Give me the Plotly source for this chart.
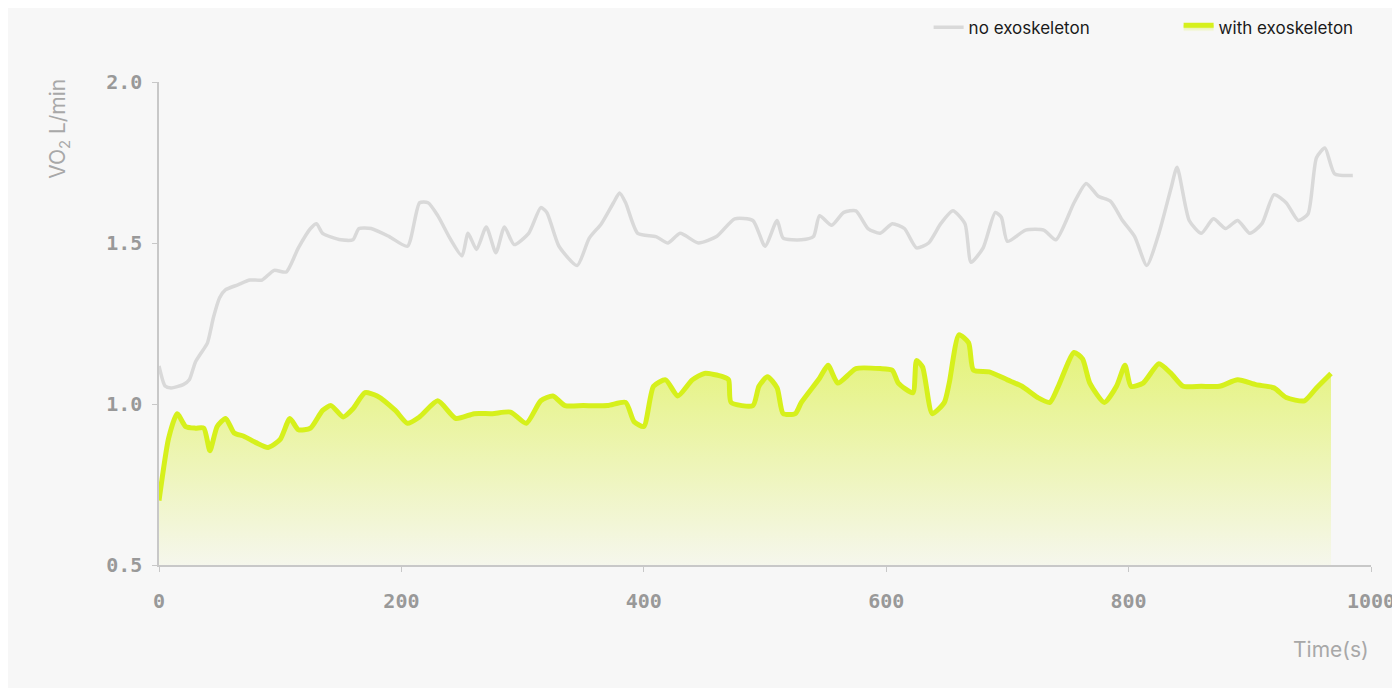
import plotly.graph_objects as go

t_no = [0,5,10,20,25,30,35,40,45,50,55,65,75,85,95,105,115,125,130,135,150,160,165,175,190,205,215,222,230,240,250,255,262,270,278,285,293,305,315,320,330,345,355,365,375,380,385,395,410,420,430,445,460,475,490,500,510,515,530,540,545,555,565,575,585,595,605,615,625,635,645,655,665,670,680,690,695,700,715,730,740,755,765,775,785,795,805,815,825,835,840,850,860,870,880,890,900,910,920,930,940,948,955,962,970,985]
v_no = [1.118,1.056,1.05,1.06,1.075,1.13,1.16,1.19,1.27,1.33,1.355,1.37,1.385,1.385,1.415,1.41,1.485,1.545,1.56,1.53,1.51,1.51,1.545,1.545,1.52,1.49,1.625,1.625,1.585,1.515,1.46,1.53,1.48,1.55,1.47,1.55,1.495,1.53,1.61,1.595,1.49,1.43,1.515,1.56,1.625,1.655,1.625,1.53,1.52,1.5,1.53,1.5,1.52,1.575,1.57,1.49,1.57,1.515,1.51,1.52,1.585,1.555,1.595,1.6,1.545,1.53,1.56,1.545,1.485,1.5,1.56,1.6,1.56,1.44,1.485,1.595,1.58,1.505,1.54,1.54,1.51,1.625,1.685,1.645,1.63,1.57,1.52,1.43,1.53,1.67,1.735,1.57,1.53,1.575,1.545,1.57,1.53,1.56,1.65,1.625,1.57,1.59,1.765,1.795,1.715,1.71]

t_exo = [0,8,15,22,30,37,42,48,55,62,70,80,90,100,108,115,125,135,142,152,160,170,180,195,205,215,230,245,260,275,290,303,315,325,335,350,370,385,392,400,408,418,428,440,450,465,470,472,490,495,502,510,515,525,530,545,552,560,570,575,595,605,610,622,625,630,638,648,652,660,668,672,685,700,712,725,735,742,755,762,768,780,790,797,802,812,825,835,845,860,875,890,905,920,930,945,955,967]
v_exo = [0.70,0.895,0.97,0.93,0.925,0.925,0.855,0.93,0.955,0.91,0.9,0.88,0.865,0.89,0.955,0.92,0.925,0.98,0.995,0.96,0.985,1.035,1.025,0.98,0.94,0.96,1.01,0.955,0.97,0.97,0.975,0.94,1.01,1.025,0.995,0.995,0.995,1.005,0.945,0.93,1.055,1.075,1.025,1.075,1.095,1.085,1.075,1.005,0.995,1.055,1.085,1.05,0.97,0.97,1.005,1.08,1.12,1.065,1.095,1.11,1.11,1.105,1.065,1.035,1.135,1.115,0.97,1.005,1.065,1.215,1.19,1.105,1.1,1.075,1.055,1.02,1.005,1.055,1.16,1.14,1.065,1.005,1.055,1.12,1.055,1.065,1.125,1.095,1.055,1.055,1.055,1.075,1.06,1.05,1.02,1.01,1.05,1.095]

x_ticks = [0,200,400,600,800,1000]
y_ticks = [0.5,1.0,1.5,2.0]

GREEN = "#d6f01c"
GRAY = "#d9d9d9"
AX = "#c8c8c8"

fig = go.Figure()
fig.add_trace(go.Scatter(x=t_no, y=v_no, mode="lines", name="no exoskeleton",
                         line=dict(color=GRAY, width=3.5, shape="spline", smoothing=0.6)))
fig.add_trace(go.Scatter(x=t_exo, y=v_exo, mode="lines", name="with exoskeleton",
                         line=dict(color=GREEN, width=5, shape="spline", smoothing=0.6),
                         fill="tozeroy",
                         fillgradient=dict(type="vertical", start=0.5, stop=1.15,
                                           colorscale=[[0, "rgba(214,240,28,0.05)"], [1, "rgba(214,240,28,0.55)"]])))

fig.update_layout(
    width=1400, height=688, paper_bgcolor="#f7f7f7", plot_bgcolor="#f7f7f7",
    margin=dict(l=151, r=37, t=74, b=131, autoexpand=False),
    font=dict(family="DejaVu Sans Mono", color="#999999", size=20),
    legend=dict(orientation="h", x=0.635, xanchor="left", y=1.075, yanchor="bottom",
                font=dict(family="Inter", size=17, color="#1a1a1a"),
                entrywidth=205, entrywidthmode="pixels",
                bgcolor="rgba(0,0,0,0)", traceorder="normal"),
    xaxis=dict(range=[0, 1000], tickvals=x_ticks, ticktext=[str(v) for v in x_ticks],
               showgrid=False, zeroline=False, showline=True, linecolor=AX, linewidth=1.5,
               ticks="outside", ticklen=5, tickcolor=AX, ticklabelstandoff=12,
               tickfont=dict(weight="bold")),
    yaxis=dict(range=[0.5, 2.0], tickvals=y_ticks, ticktext=["%.1f" % v for v in y_ticks],
               showgrid=False, zeroline=False, showline=True, linecolor=AX, linewidth=1.5,
               ticks="outside", ticklen=5, tickcolor=AX, ticklabelstandoff=6,
               tickfont=dict(weight="bold")),
    annotations=[
        dict(text="Time(s)", xref="paper", yref="paper", x=1.0, y=-0.175, xanchor="right", yanchor="middle",
             showarrow=False, font=dict(family="Inter", size=21, color="#a8a8a8")),
        dict(text="VO<sub>2</sub> L/min", xref="paper", yref="paper", x=-0.082, y=1.01, xanchor="center", yanchor="top",
             textangle=-90, showarrow=False, font=dict(family="Inter", size=21, color="#a8a8a8")),
    ],
)
fig.write_html("out.html")
